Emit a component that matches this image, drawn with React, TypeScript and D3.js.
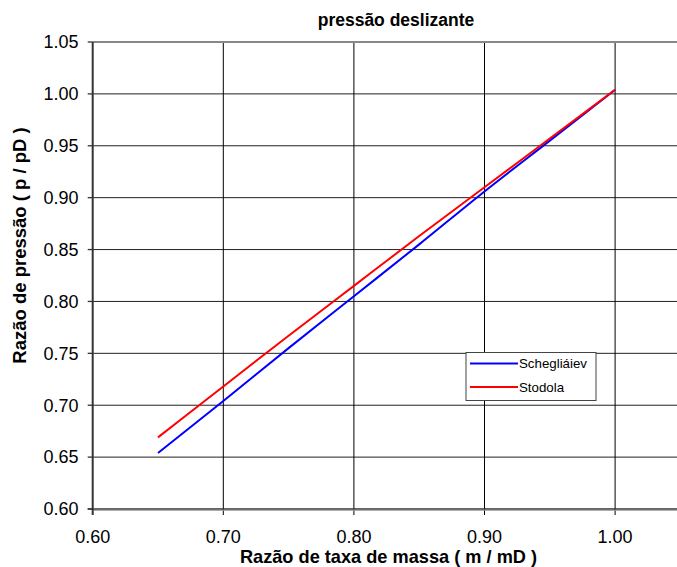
import React from "react";
import * as d3 from "d3";

const xValues = [0.65, 0.7, 0.75, 0.8, 0.85, 0.9, 0.95, 1.0];
const schegliaievValues = [0.654, 0.704, 0.755, 0.805, 0.855, 0.906, 0.955, 1.004];
const stodolaValues = [0.669, 0.718, 0.767, 0.815, 0.863, 0.91, 0.957, 1.004];
const xTicks = [0.6, 0.7, 0.8, 0.9, 1.0];
const yTicks = [0.6, 0.65, 0.7, 0.75, 0.8, 0.85, 0.9, 0.95, 1.0, 1.05];
const seriesNames = ["Schegliáiev", "Stodola"];
const seriesColors = ["#0000ff", "#ff0000"];

const W = 677;
const H = 567;
const left = 92.7;
const top = 42;
const bottom = 509;

export default function App() {
  const x = d3.scaleLinear().domain([0.6, 1.05]).range([left, left + 4.5 * 130.6]);
  const y = d3.scaleLinear().domain([0.6, 1.05]).range([bottom, top]);
  const line = d3
    .line<[number, number]>()
    .x((d) => x(d[0]))
    .y((d) => y(d[1]))
    .curve(d3.curveMonotoneX);
  const series = [schegliaievValues, stodolaValues];
  const font = "'Liberation Sans', Arial, sans-serif";
  const right = W;
  return (
    <svg
      width={W}
      height={H}
      style={{ position: "absolute", left: 0, top: 0, background: "#fff" }}
      fontFamily={font}
    >
      <rect x={0} y={0} width={W} height={H} fill="#fff" />
      {yTicks.slice(1, -1).map((t) => (
        <line key={"hg" + t} x1={left} x2={right} y1={y(t)} y2={y(t)} stroke="#222" strokeWidth={1} />
      ))}
      {xTicks.slice(1).map((t) => (
        <line key={"vg" + t} x1={x(t)} x2={x(t)} y1={top} y2={bottom + 6} stroke="#000" strokeWidth={1} />
      ))}
      <line x1={left} x2={right} y1={top} y2={top} stroke="#888" strokeWidth={2} />
      <line x1={left - 5} x2={right} y1={bottom} y2={bottom} stroke="#333" strokeWidth={1.5} />
      <line x1={left} x2={right} y1={bottom + 1.3} y2={bottom + 1.3} stroke="#999" strokeWidth={1} />
      <line x1={left} x2={left} y1={top} y2={bottom + 6} stroke="#333" strokeWidth={2} />
      {yTicks.map((t) => (
        <g key={"yt" + t}>
          <line x1={left - 5} x2={left} y1={y(t)} y2={y(t)} stroke="#333" strokeWidth={1.3} />
          <text x={78.5} y={y(t) + 6.3} fontSize={18} textAnchor="end" fill="#000">
            {t.toFixed(2)}
          </text>
        </g>
      ))}
      {xTicks.map((t) => (
        <text key={"xt" + t} x={x(t)} y={542.5} fontSize={18} textAnchor="middle" fill="#000">
          {t.toFixed(2)}
        </text>
      ))}
      {series.map((vals, i) => (
        <path
          key={seriesNames[i]}
          d={line(xValues.map((v, j) => [v, vals[j]] as [number, number])) || ""}
          fill="none"
          stroke={seriesColors[i]}
          strokeWidth={2}
        />
      ))}
      <rect x={466} y={352.5} width={130} height={48} fill="#fff" stroke="#444" strokeWidth={1} />
      {seriesNames.map((n, i) => (
        <g key={"lg" + n}>
          <line x1={470} x2={518} y1={363.5 + i * 23.5} y2={363.5 + i * 23.5} stroke={seriesColors[i]} strokeWidth={2} />
          <text x={519} y={368 + i * 23.5} fontSize={13.3} fill="#000">
            {n}
          </text>
        </g>
      ))}
      <text x={396} y={26} fontSize={17.5} fontWeight="bold" textAnchor="middle" fill="#000">
        pressão deslizante
      </text>
      <text x={388.5} y={563} fontSize={18.2} fontWeight="bold" textAnchor="middle" fill="#000">
        Razão de taxa de massa ( m / mD )
      </text>
      <text
        transform={`translate(26, 245.5) rotate(-90)`}
        fontSize={18.5}
        fontWeight="bold"
        textAnchor="middle"
        fill="#000"
      >
        Razão de pressão  ( p / pD )
      </text>
    </svg>
  );
}
